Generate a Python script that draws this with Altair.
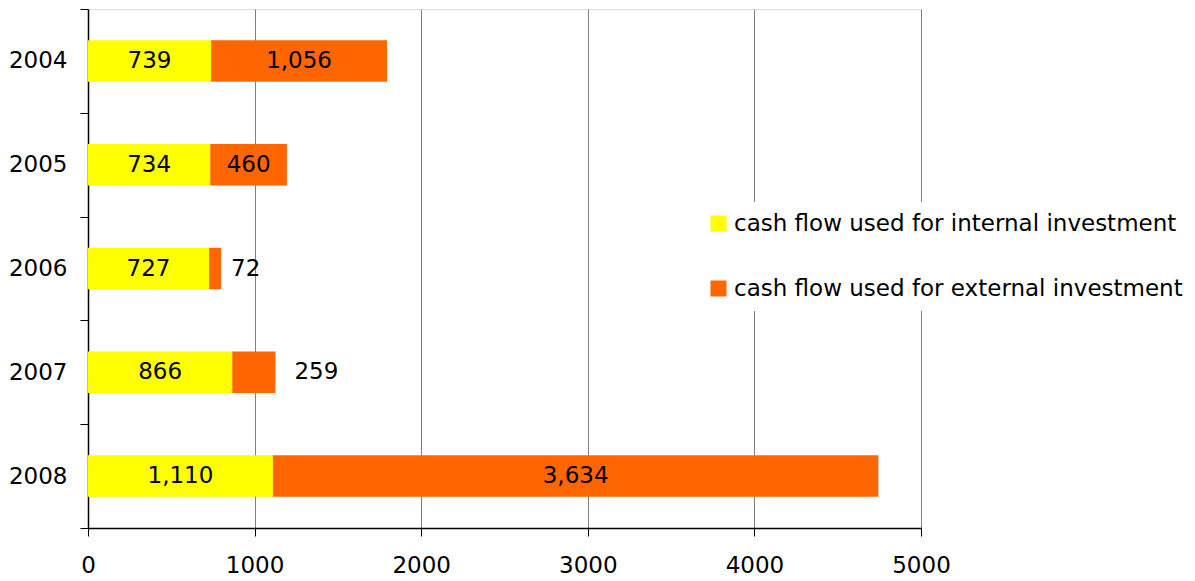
import altair as alt
import pandas as pd

years = ["2004", "2005", "2006", "2007", "2008"]
internal = [739, 734, 727, 866, 1110]
external = [1056, 460, 72, 259, 3634]
series_names = ["cash flow used for internal investment", "cash flow used for external investment"]
colors = ["#FFFF00", "#FF6600"]
# where each external label sits: inside the segment or just after it
external_label_side = ["inside", "inside", "after", "after", "inside"]

rows = []
for i, y in enumerate(years):
    rows.append(dict(year=y, series=series_names[0], order=0, value=internal[i],
                     start=0, end=internal[i], side="inside"))
    rows.append(dict(year=y, series=series_names[1], order=1, value=external[i],
                     start=internal[i], end=internal[i] + external[i],
                     side=external_label_side[i]))
df = pd.DataFrame(rows)

FONT = "DejaVu Sans"
FS = 23

y_enc = alt.Y("year:N", sort=years, title=None,
              scale=alt.Scale(paddingInner=0, paddingOuter=0),
              axis=alt.Axis(tickBand="extent", grid=False, domainColor="black",
                            tickColor="black", tickSize=8, labelFontSize=FS,
                            labelFont=FONT, labelColor="black", labelPadding=13,
                            domainWidth=1.5))

bars = alt.Chart(df).mark_bar(height={"band": 0.4}).encode(
    x=alt.X("start:Q", title=None,
            scale=alt.Scale(domain=[0, 5000], nice=False),
            axis=alt.Axis(values=[0, 1000, 2000, 3000, 4000, 5000], grid=True,
                          gridColor="#808080", gridWidth=1, domainColor="black",
                          domainWidth=1.5, tickColor="black", tickSize=8,
                          labelFontSize=FS, labelFont=FONT, labelColor="black",
                          labelPadding=18, format="d", labelFlush=False)),
    x2="end:Q",
    y=y_enc,
    color=alt.Color("series:N", sort=series_names,
                    scale=alt.Scale(domain=series_names, range=colors),
                    legend=alt.Legend(title=None, orient="none", legendX=609, legendY=193,
                                      symbolType="square", symbolSize=256,
                                      symbolStrokeWidth=0, labelFontSize=FS,
                                      labelFont=FONT, labelColor="black",
                                      rowPadding=41, fillColor="white", padding=10,
                                      labelLimit=600, labelOffset=4)),
    order=alt.Order("order:Q"),
)

inside = alt.Chart(df).transform_filter(alt.datum.side == "inside").transform_calculate(
    mid="(datum.start + datum.end) / 2"
).mark_text(font=FONT, fontSize=FS, color="black", baseline="middle", align="center").encode(
    x="mid:Q", y=alt.Y("year:N", sort=years), text=alt.Text("value:Q", format=",")
)

after_a = alt.Chart(df).transform_filter(
    (alt.datum.side == "after") & (alt.datum.year == "2006")
).mark_text(font=FONT, fontSize=FS, color="black", baseline="middle", align="left", dx=10).encode(
    x="end:Q", y=alt.Y("year:N", sort=years), text=alt.Text("value:Q", format=",")
)
after_b = alt.Chart(df).transform_filter(
    (alt.datum.side == "after") & (alt.datum.year == "2007")
).mark_text(font=FONT, fontSize=FS, color="black", baseline="middle", align="left", dx=19).encode(
    x="end:Q", y=alt.Y("year:N", sort=years), text=alt.Text("value:Q", format=",")
)

chart = alt.layer(bars, inside, after_a, after_b).properties(
    width=833, height=519,
    autosize=alt.AutoSizeParams(type="none"),
    padding={"left": 88, "top": 9, "right": 274, "bottom": 53},
).configure_view(stroke="#808080", strokeWidth=1.5).configure(background="white")

chart.save("out.html", embed_options={"renderer": "svg", "actions": False})
